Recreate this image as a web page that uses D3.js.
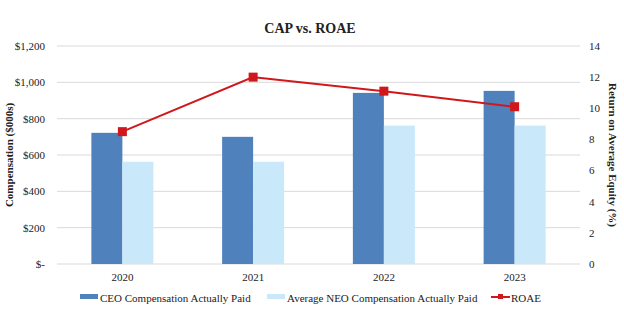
<!DOCTYPE html>
<html>
<head>
<meta charset="utf-8">
<script src="https://cdn.jsdelivr.net/npm/d3@7"></script>
<style>
  body { margin: 0; background: #fff; }
  text { font-family: "Liberation Serif", "Times New Roman", serif; fill: #222; }
</style>
</head>
<body>
<div class="main"></div>
<script>
const years = ["2020", "2021", "2022", "2023"];
const ceoCap = [722, 700, 942, 953];
const neoCap = [563, 563, 762, 762];
const roae = [8.5, 12.0, 11.1, 10.1];
const leftTicks = [0, 200, 400, 600, 800, 1000, 1200];
const rightTicks = [0, 2, 4, 6, 8, 10, 12, 14];

const width = 624, height = 310;
const margin = { top: 46, right: 44, bottom: 46, left: 57 };

const svg = d3.select(".main").append("svg")
    .attr("width", width)
    .attr("height", height);

const x = d3.scaleBand()
    .domain(years)
    .range([margin.left, width - margin.right])
    .paddingInner(0)
    .paddingOuter(0);

const yL = d3.scaleLinear().domain([0, 1200]).range([height - margin.bottom, margin.top]);
const yR = d3.scaleLinear().domain([0, 14]).range([height - margin.bottom, margin.top]);

const barW = 31;

// gridlines
svg.append("g")
    .selectAll("line")
    .data(leftTicks)
    .enter().append("line")
    .attr("x1", margin.left)
    .attr("x2", width - margin.right)
    .attr("y1", d => yL(d))
    .attr("y2", d => yL(d))
    .attr("stroke", "#d9d9d9")
    .attr("stroke-width", 1);

// left axis labels
const fmt = d => d === 0 ? "$-" : "$" + d3.format(",")(d);
svg.append("g")
    .selectAll("text")
    .data(leftTicks)
    .enter().append("text")
    .attr("x", 45)
    .attr("y", d => yL(d))
    .attr("dy", "0.35em")
    .attr("text-anchor", "end")
    .style("font-size", "11px")
    .text(fmt);

// right axis labels
svg.append("g")
    .selectAll("text")
    .data(rightTicks)
    .enter().append("text")
    .attr("x", 589)
    .attr("y", d => yR(d))
    .attr("dy", "0.35em")
    .attr("text-anchor", "start")
    .style("font-size", "11px")
    .text(d => d);

// bars
const centers = years.map(y => x(y) + x.bandwidth() / 2);

svg.append("g")
    .selectAll("rect")
    .data(ceoCap)
    .enter().append("rect")
    .attr("x", (d, i) => centers[i] - barW)
    .attr("y", d => yL(d))
    .attr("width", barW)
    .attr("height", d => yL(0) - yL(d))
    .attr("fill", "#4f81bd");

svg.append("g")
    .selectAll("rect")
    .data(neoCap)
    .enter().append("rect")
    .attr("x", (d, i) => centers[i])
    .attr("y", d => yL(d))
    .attr("width", barW)
    .attr("height", d => yL(0) - yL(d))
    .attr("fill", "#c9e9fb");

// ROAE line
const line = d3.line()
    .x((d, i) => centers[i])
    .y(d => yR(d));

svg.append("path")
    .datum(roae)
    .attr("d", line)
    .attr("fill", "none")
    .attr("stroke", "#d0181c")
    .attr("stroke-width", 2);

svg.append("g")
    .selectAll("rect")
    .data(roae)
    .enter().append("rect")
    .attr("x", (d, i) => centers[i] - 4.5)
    .attr("y", d => yR(d) - 4.5)
    .attr("width", 9)
    .attr("height", 9)
    .attr("fill", "#d0181c");

// x labels
svg.append("g")
    .selectAll("text")
    .data(years)
    .enter().append("text")
    .attr("x", d => x(d) + x.bandwidth() / 2)
    .attr("y", 281)
    .attr("text-anchor", "middle")
    .style("font-size", "11px")
    .text(d => d);

// title
svg.append("text")
    .attr("x", 310)
    .attr("y", 33)
    .attr("text-anchor", "middle")
    .style("font-size", "14px")
    .style("font-weight", "bold")
    .text("CAP vs. ROAE");

// axis titles
svg.append("text")
    .attr("transform", "translate(13," + ((margin.top + height - margin.bottom) / 2) + ") rotate(-90)")
    .attr("text-anchor", "middle")
    .style("font-size", "11px")
    .style("font-weight", "bold")
    .text("Compensation ($000s)");

svg.append("text")
    .attr("transform", "translate(605," + ((margin.top + height - margin.bottom) / 2) + ") rotate(90)")
    .attr("text-anchor", "middle")
    .attr("dy", "-0.35em")
    .style("font-size", "11px")
    .style("font-weight", "bold")
    .text("Return on Average Equity (%)");

// legend
const legendY = 298;
const legend = svg.append("g");

legend.append("rect").attr("x", 80).attr("y", legendY - 4).attr("width", 18).attr("height", 5).attr("fill", "#4f81bd");
legend.append("text").attr("x", 100).attr("y", legendY).attr("dy", "0.35em")
    .style("font-size", "11px").text("CEO Compensation Actually Paid");

legend.append("rect").attr("x", 267).attr("y", legendY - 4).attr("width", 18).attr("height", 5).attr("fill", "#c9e9fb");
legend.append("text").attr("x", 287).attr("y", legendY).attr("dy", "0.35em")
    .style("font-size", "11px").text("Average NEO Compensation Actually Paid");

legend.append("line").attr("x1", 491).attr("x2", 510).attr("y1", legendY - 1).attr("y2", legendY - 1)
    .attr("stroke", "#d0181c").attr("stroke-width", 2);
legend.append("rect").attr("x", 498).attr("y", legendY - 4).attr("width", 5).attr("height", 5).attr("fill", "#d0181c");
legend.append("text").attr("x", 511).attr("y", legendY).attr("dy", "0.35em")
    .style("font-size", "11px").text("ROAE");
</script>
</body>
</html>
